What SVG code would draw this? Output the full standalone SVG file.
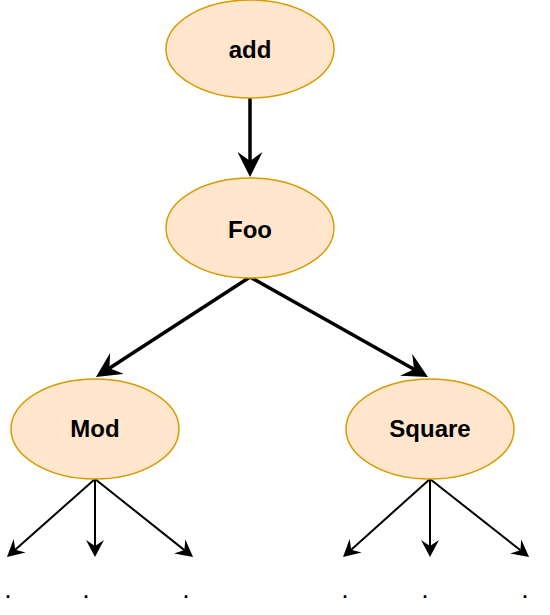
<svg xmlns="http://www.w3.org/2000/svg" width="550" height="615" viewBox="0 0 550 615">
<style>
.node ellipse{fill:#ffe6cc;stroke:#d79b00;stroke-width:1.5}
.node text{font-family:"Liberation Sans",Arial,sans-serif;font-weight:bold;font-size:24px;fill:#000;text-anchor:middle}
.thick{stroke:#000;stroke-width:3.5;fill:none}
.thin{stroke:#000;stroke-width:2;fill:none}
.dot{font-family:"Liberation Sans",Arial,sans-serif;font-weight:bold;font-size:18px;fill:#000;text-anchor:middle}
</style>
<defs>
<marker id="bigArrow" viewBox="0 0 25 25" markerWidth="25" markerHeight="25" refX="9" refY="12.5" orient="auto" markerUnits="userSpaceOnUse">
<path d="M25,12.5 L0,0 L9,12.5 L0,25 Z" fill="#000"/>
</marker>
<marker id="smallArrow" viewBox="0 0 17 18" markerWidth="17" markerHeight="18" refX="6" refY="9" orient="auto" markerUnits="userSpaceOnUse">
<path d="M17,9 L0,0 L6,9 L0,18 Z" fill="#000"/>
</marker>
</defs>
<g id="connectors">
<path class="thick" d="M250,98 L250,161" marker-end="url(#bigArrow)"/>
<path class="thick" d="M250,277 L109.4,368.3" marker-end="url(#bigArrow)"/>
<path class="thick" d="M250,277 L414,369.2" marker-end="url(#bigArrow)"/>
<path class="thin" d="M95,479 L15.2,549.7" marker-end="url(#smallArrow)"/>
<path class="thin" d="M95,479 L95,546" marker-end="url(#smallArrow)"/>
<path class="thin" d="M95,479 L184.4,550.1" marker-end="url(#smallArrow)"/>
<path class="thin" d="M430,479 L351.2,549.7" marker-end="url(#smallArrow)"/>
<path class="thin" d="M430,479 L430,546" marker-end="url(#smallArrow)"/>
<path class="thin" d="M430,479 L520.4,550.2" marker-end="url(#smallArrow)"/>
</g>
<g id="node-add" class="node">
<ellipse cx="250" cy="49" rx="84" ry="49"/>
<text x="250" y="58">add</text>
</g>
<g id="node-foo" class="node">
<ellipse cx="250" cy="228" rx="84" ry="50"/>
<text x="250" y="238">Foo</text>
</g>
<g id="node-mod" class="node">
<ellipse cx="95" cy="429" rx="84" ry="50"/>
<text x="95" y="437">Mod</text>
</g>
<g id="node-square" class="node">
<ellipse cx="430" cy="429" rx="84" ry="50"/>
<text x="430" y="437">Square</text>
</g>
<g id="dots">
<text class="dot" x="8" y="598">.</text>
<text class="dot" x="86" y="598">.</text>
<text class="dot" x="186" y="598">.</text>
<text class="dot" x="345" y="598">.</text>
<text class="dot" x="425" y="598">.</text>
<text class="dot" x="525" y="598">.</text>
</g>
</svg>
